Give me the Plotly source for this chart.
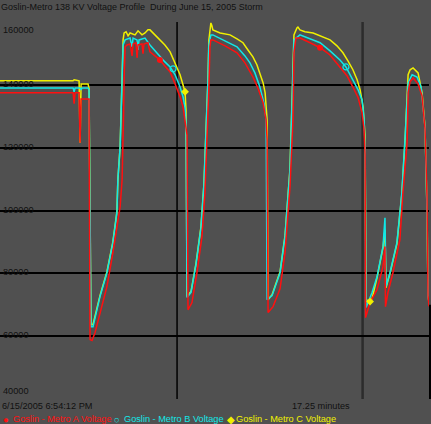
import plotly.graph_objects as go

# time in minutes from 6/15/2005 6:54:12 PM, voltage in volts
t_a = [0, 0.80, 1.61, 2.41, 2.94, 2.98, 3.02, 3.18, 3.22, 3.26, 3.54, 3.58, 3.62, 3.70, 3.82, 4.02, 4.30, 4.54,
       4.70, 4.83, 4.91, 4.95, 4.97, 4.99, 5.03, 5.11, 5.23, 5.31, 5.35, 5.47, 5.51, 5.55, 5.71, 5.75, 5.79, 5.95,
       6.03, 6.23, 6.43, 6.63, 6.84, 7.04, 7.24, 7.36, 7.44, 7.52, 7.56, 7.72, 7.92, 8.12, 8.24, 8.32, 8.40, 8.44,
       8.48, 8.56, 9.05, 9.53, 9.85, 10.17, 10.37, 10.58, 10.70, 10.74, 10.78, 10.98, 11.26, 11.46, 11.66, 11.78,
       11.82, 11.90, 12.06, 12.47, 12.87, 13.27, 13.67, 13.95, 14.19, 14.40, 14.56, 14.64, 14.68, 14.70, 14.88,
       15.16, 15.40, 15.48, 15.50, 15.60, 15.80, 16.08, 16.20, 16.37, 16.41, 16.49, 16.61, 16.81, 16.97, 17.09,
       17.17, 17.21, 17.25]
v_a = [137450, 137500, 137400, 137450, 137450, 134000, 137450, 137450, 121600, 135500, 135500, 135500, 58900,
       58600, 61100, 67500, 75800, 86600, 94800, 101200, 109800, 120300, 131100, 141600, 152100, 152700, 153000,
       149200, 153000, 153400, 148600, 152700, 153000, 149900, 153000, 153400, 150500, 149200, 147900, 146000,
       144100, 140300, 136200, 133000, 128900, 124100, 68400, 70700, 80200, 91700, 105700, 120300, 139300, 152100,
       154300, 154300, 152400, 150200, 147000, 142500, 139000, 134300, 128900, 122500, 67500, 69400, 75100, 86600,
       107600, 128900, 150200, 154900, 154900, 153400, 151800, 149500, 145700, 142900, 139300, 135900, 131100,
       125700, 117700, 65900, 70700, 74800, 82100, 88500, 69400, 73900, 80200, 90700, 105700, 121600, 137500,
       141000, 142200, 140300, 136500, 126000, 104500, 73000, 69500]

t_b = [0, 2.94, 2.98, 3.02, 3.22, 3.26, 3.30, 3.54, 3.58, 3.66, 3.74, 4.02, 4.30, 4.54, 4.70, 4.74, 4.83, 4.87,
       4.91, 4.95, 5.03, 5.23, 5.31, 5.35, 5.51, 5.55, 5.59, 5.83, 6.03, 6.23, 6.43, 6.63, 6.84, 7.04, 7.24, 7.36,
       7.44, 7.48, 7.52, 7.68, 7.88, 8.08, 8.20, 8.28, 8.36, 8.40, 8.48, 8.56, 9.05, 9.53, 9.85, 10.05, 10.25,
       10.45, 10.62, 10.70, 10.74, 10.94, 11.26, 11.46, 11.66, 11.74, 11.82, 12.06, 12.47, 12.87, 13.27, 13.67,
       13.91, 14.19, 14.40, 14.56, 14.64, 14.68, 14.72, 14.96, 15.16, 15.40, 15.48, 15.52, 15.68, 15.96, 16.16,
       16.29, 16.41, 16.57, 16.77, 16.93, 17.09, 17.17, 17.21, 17.25]
v_b = [139000, 139000, 137800, 139000, 139000, 138400, 139000, 139000, 138400, 63000, 63000, 72600, 80200,
       89800, 99300, 109800, 120300, 131100, 141600, 152700, 154300, 154900, 152100, 154900, 154300, 151100,
       154300, 154900, 152700, 150800, 148900, 147300, 145700, 143200, 139300, 136200, 132700, 128200, 72300,
       73900, 82800, 94500, 108200, 122500, 140900, 152700, 155900, 155900, 154000, 152100, 149200, 147000,
       143800, 139300, 133900, 128900, 71600, 72900, 80200, 91700, 112900, 134300, 154300, 155900, 154600,
       153400, 150800, 147900, 145700, 141600, 138400, 135200, 128900, 120000, 69100, 73900, 78900, 88500,
       97700, 75800, 80200, 89800, 105700, 123500, 140600, 143200, 142500, 139300, 126600, 100200, 73200, 70700]

t_c = [0, 2.94, 2.98, 3.18, 3.22, 3.26, 3.54, 3.58, 3.66, 3.74, 4.02, 4.30, 4.54, 4.70, 4.74, 4.83, 4.87, 4.91,
       4.95, 4.99, 5.07, 5.15, 5.23, 5.43, 5.55, 5.71, 5.83, 5.95, 6.03, 6.23, 6.43, 6.63, 6.84, 7.04, 7.24, 7.44,
       7.48, 7.52, 7.68, 7.88, 8.08, 8.20, 8.28, 8.36, 8.40, 8.48, 8.52, 8.56, 8.85, 9.25, 9.53, 9.77, 9.97, 10.17,
       10.33, 10.45, 10.58, 10.66, 10.74, 10.78, 10.94, 11.26, 11.46, 11.66, 11.74, 11.82, 11.94, 11.98, 12.06,
       12.26, 12.59, 12.87, 13.27, 13.55, 13.79, 13.99, 14.19, 14.36, 14.48, 14.60, 14.68, 14.72, 14.88, 14.96,
       15.16, 15.40, 15.48, 15.52, 15.68, 15.96, 16.16, 16.29, 16.41, 16.49, 16.61, 16.81, 16.97, 17.09, 17.17,
       17.21, 17.25]
v_c = [141300, 141300, 141600, 141300, 121600, 140300, 140300, 139000, 63700, 63700, 72900, 80500, 90100,
       99600, 109800, 120300, 131100, 141600, 154300, 156500, 156900, 155600, 156500, 155900, 157200, 155900,
       156500, 157500, 157500, 155900, 154300, 152700, 150500, 147000, 143200, 137800, 132000, 72600, 74200,
       83100, 94800, 108500, 122800, 141300, 154300, 159700, 158800, 157500, 156500, 155900, 154600, 153400,
       151100, 148900, 146400, 143800, 140600, 137500, 128900, 71600, 73200, 80500, 92000, 113300, 134600,
       155900, 158100, 158400, 157500, 156900, 156500, 155600, 154300, 152400, 150200, 147600, 144800, 141600,
       138400, 133000, 123500, 71600, 71000, 71900, 78600, 88200, 93900, 75400, 79900, 89400, 105300, 123100,
       143200, 144800, 145400, 143800, 137500, 126600, 100200, 73200, 70700]

# sparse point markers on each series
mt_a = [6.43, 12.87]
mv_a = [147900, 151800]
mt_b = [6.96, 13.91]
mv_b = [145100, 145700]
mt_c = [7.44, 14.88]
mv_c = [137800, 71000]

y_ticks = [40000, 60000, 80000, 100000, 120000, 140000, 160000]
x_grid = [7.12, 14.58]
span_min = 17.25
start_label = "6/15/2005 6:54:12 PM"
title = "Goslin-Metro 138 KV Voltage Profile  During June 15, 2005 Storm"
names = ["Goslin - Metro A Voltage", "Goslin - Metro B Voltage", "Goslin - Metro C Voltage"]

RED, CYAN, YEL = "#ff1010", "#10e8e8", "#f0f000"
TXT = "#111111"
BG = "#505050"
FONT = "Liberation Sans, Arial, sans-serif"
FS = 9.2

fig = go.Figure()
fig.add_trace(go.Scatter(x=t_c, y=v_c, mode="lines", line=dict(color=YEL, width=1.5), name=names[2]))
fig.add_trace(go.Scatter(x=t_b, y=v_b, mode="lines", line=dict(color=CYAN, width=1.5), name=names[1]))
fig.add_trace(go.Scatter(x=t_a, y=v_a, mode="lines", line=dict(color=RED, width=1.5), name=names[0]))
fig.add_trace(go.Scatter(x=mt_a, y=mv_a, mode="markers", marker=dict(color=RED, size=6, symbol="circle")))
fig.add_trace(go.Scatter(x=mt_b, y=mv_b, mode="markers",
                         marker=dict(color=CYAN, size=6, symbol="circle-open", line=dict(width=1.2))))
fig.add_trace(go.Scatter(x=mt_c, y=mv_c, mode="markers", marker=dict(color=YEL, size=6, symbol="diamond")))

shapes = [
    dict(type="line", xref="x", yref="paper", x0=x_grid[0], x1=x_grid[0], y0=0, y1=1,
         line=dict(color="#000000", width=1.5), layer="below"),
    dict(type="line", xref="x", yref="paper", x0=x_grid[1], x1=x_grid[1], y0=0, y1=1,
         line=dict(color="#2c2c2c", width=2.5), layer="below"),
    dict(type="rect", xref="paper", yref="y", x0=1.0, x1=1.0 + 2 / 429, y0=40000, y1=70000,
         fillcolor="#000000", line=dict(width=0)),
]

ann = []
for v in y_ticks:
    if v == y_ticks[-1]:
        ya, ys = "top", -1
    elif v == y_ticks[0]:
        ya, ys = "bottom", 1
    else:
        ya, ys = "middle", 1
    ann.append(dict(x=0.003, y=v, xref="paper", yref="y", text=str(v), showarrow=False, xanchor="left",
                    yanchor=ya, yshift=ys, font=dict(size=FS, color=TXT, family=FONT)))
ann.append(dict(x=-0.002, y=1, xref="paper", yref="paper", yshift=22, text=title, showarrow=False,
                xanchor="left", yanchor="top", font=dict(size=9.0, color=TXT, family=FONT)))
ann.append(dict(x=0, y=0, xref="paper", yref="paper", yshift=0, text=start_label, showarrow=False,
                xanchor="left", yanchor="top", font=dict(size=FS, color=TXT, family=FONT)))
ann.append(dict(x=290 / 429, y=0, xref="paper", yref="paper", yshift=0, text=f"{span_min} minutes",
                showarrow=False, xanchor="left", yanchor="top", font=dict(size=FS, color=TXT, family=FONT)))
sym_x = [1 / 429, 112 / 429, 225 / 429]
txt_x = [11 / 429, 122 / 429, 234 / 429]
leg_sym = ["●", "○", "◆"]
leg_col = [RED, CYAN, YEL]
for sx, tx, s, c, n in zip(sym_x, txt_x, leg_sym, leg_col, names):
    ann.append(dict(x=sx, y=0, xref="paper", yref="paper", yshift=-13, text=s, showarrow=False,
                    xanchor="left", yanchor="top", font=dict(size=9.6, color=c, family=FONT)))
    ann.append(dict(x=tx, y=0, xref="paper", yref="paper", yshift=-13, text=n, showarrow=False,
                    xanchor="left", yanchor="top", font=dict(size=9.2, color=c, family=FONT)))

fig.update_layout(
    width=431, height=424,
    margin=dict(l=0, r=2, t=22, b=25),
    paper_bgcolor=BG, plot_bgcolor=BG,
    showlegend=False,
    shapes=shapes, annotations=ann,
    xaxis=dict(range=[0, span_min], showgrid=False, zeroline=False, showticklabels=False, ticks=""),
    yaxis=dict(range=[40000, 160000], tickvals=y_ticks, showgrid=True, gridcolor="#000000", gridwidth=1.5,
               zeroline=False, showticklabels=False, ticks=""),
)

fig.write_html("out.html", config={"displayModeBar": False},
               post_script="document.body.style.margin='0';document.body.style.background='#505050';")
